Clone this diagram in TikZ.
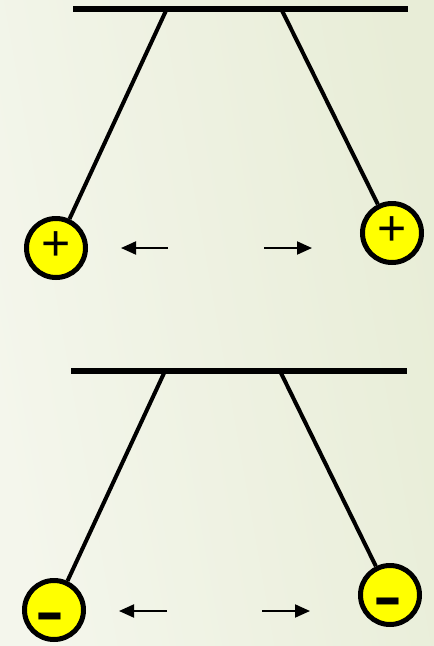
\documentclass[tikz,border=0pt]{standalone}
\usepackage{fontspec}
\setmainfont{Liberation Sans}
\usetikzlibrary{arrows.meta}
\definecolor{bgl}{RGB}{244,246,236}
\definecolor{bgr}{RGB}{232,237,215}
\definecolor{ballyellow}{RGB}{255,255,0}
\tikzset{
  bar/.style={line width=6pt},
  thread/.style={line width=4pt},
  ball/.style={circle, draw=black, line width=5pt, fill=ballyellow, minimum size=59pt, inner sep=0pt},
  force/.style={line width=2pt, -{Triangle[length=15pt,width=13pt]}},
  plusmark/.style={font=\fontsize{50}{50}\selectfont},
  minusmark/.style={font=\bfseries\fontsize{58}{58}\selectfont, xscale=1.5}
}
\begin{document}
\begin{tikzpicture}[x=1pt,y=-1pt]
\useasboundingbox (0,0) rectangle (434,646);
\shade[left color=bgl, right color=bgr, shading angle=100] (0,0) rectangle (434,646);
% top pair (positive)
\coordinate (tb1) at (73,8.5);
\coordinate (tb2) at (408,8.5);
\coordinate (ta1) at (167,8.5);
\coordinate (ta2) at (281,8.5);
\node[ball] (p1) at (56,248) {};
\node[ball] (p2) at (392,233) {};
\node[plusmark] (p1t) at (56,246) {+};
\node[plusmark] (p2t) at (392,231) {+};
\draw[thread] (ta1) -- (p1);
\draw[thread] (ta2) -- (p2);
\draw[bar] (tb1) -- (tb2);
\coordinate (f1s) at (168,248);
\coordinate (f1e) at (121,248);
\coordinate (f2s) at (264,248);
\coordinate (f2e) at (312,248);
\draw[force] (f1s) -- (f1e);
\draw[force] (f2s) -- (f2e);
% bottom pair (negative)
\coordinate (bb1) at (71,371);
\coordinate (bb2) at (407,371);
\coordinate (ba1) at (165,371);
\coordinate (ba2) at (280,371);
\node[ball] (n1) at (54,610) {};
\node[ball] (n2) at (390,595) {};
\node[minusmark] (n1t) at (50,622) {-};
\node[minusmark] (n2t) at (388,607) {-};
\draw[thread] (ba1) -- (n1);
\draw[thread] (ba2) -- (n2);
\draw[bar] (bb1) -- (bb2);
\coordinate (f3s) at (167,611);
\coordinate (f3e) at (119,611);
\coordinate (f4s) at (262,611);
\coordinate (f4e) at (310,611);
\draw[force] (f3s) -- (f3e);
\draw[force] (f4s) -- (f4e);
\end{tikzpicture}
\end{document}
